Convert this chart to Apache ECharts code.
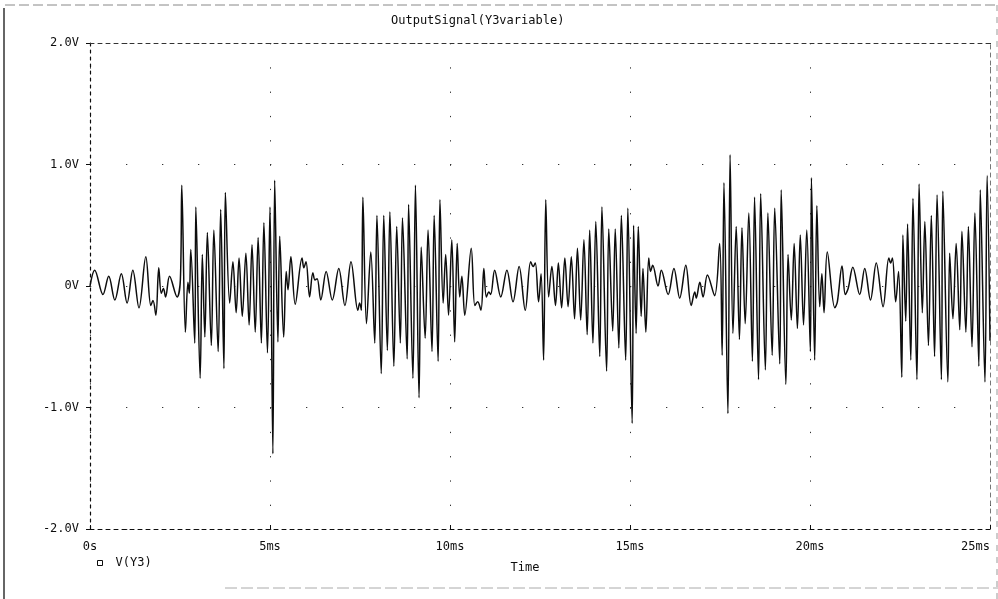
<!DOCTYPE html>
<html><head><meta charset="utf-8">
<script src="https://cdn.jsdelivr.net/npm/echarts@6/dist/echarts.min.js"></script>
<style>html,body{margin:0;padding:0;background:#fff;}#c{width:998px;height:599px;}</style>
</head><body><div id="c"></div>
<script>
// Tick labels
const xTickLabels = ['0s', '5ms', '10ms', '15ms', '20ms', '25ms'];
const yTickLabels = ['-2.0V', '-1.0V', '0V', '1.0V', '2.0V'];
const seriesName = 'V(Y3)';
const chartTitle = 'OutputSignal(Y3variable)';

// V(Y3): time (ms) and voltage (V), in five pieces
const tA = [0.00, 0.13, 0.36, 0.52, 0.69, 0.87, 1.03, 1.19, 1.36, 1.55, 1.69, 1.75, 1.83, 1.91, 1.98, 2.04, 2.10, 2.21, 2.42, 2.51, 2.55, 2.65, 2.72, 2.76, 2.80, 2.91, 2.94, 3.06, 3.12, 3.19, 3.26, 3.37, 3.44, 3.56, 3.63, 3.72, 3.76, 3.88, 3.97, 4.06, 4.14, 4.23, 4.33, 4.42, 4.50, 4.59, 4.67, 4.76, 4.83, 4.93];
const vA = [0.00, 0.13, -0.07, 0.08, -0.115, 0.10, -0.14, 0.13, -0.18, 0.24, -0.16, -0.12, -0.24, 0.15, -0.06, -0.02, -0.09, 0.08, -0.09, 0.05, 0.83, -0.38, 0.03, -0.06, 0.30, -0.47, 0.65, -0.76, 0.26, -0.42, 0.44, -0.49, 0.46, -0.54, 0.63, -0.68, 0.77, -0.14, 0.20, -0.22, 0.23, -0.25, 0.27, -0.32, 0.34, -0.38, 0.40, -0.47, 0.52, -0.55];

const tB = [5.00, 5.08, 5.13, 5.22, 5.27, 5.38, 5.45, 5.50, 5.58, 5.70, 5.89, 5.94, 6.00, 6.10, 6.19, 6.25, 6.31, 6.41, 6.56, 6.73, 6.91, 7.08, 7.25, 7.44, 7.49, 7.54, 7.58, 7.68, 7.80, 7.91, 7.97, 8.09, 8.16, 8.26, 8.33, 8.44, 8.52, 8.62, 8.68, 8.81, 8.85, 8.97, 9.04, 9.14, 9.20, 9.31, 9.39, 9.50, 9.56, 9.67, 9.72, 9.81, 9.88, 9.96];
const vB = [0.65, -1.38, 0.87, -0.46, 0.41, -0.42, 0.12, -0.03, 0.24, -0.15, 0.23, 0.15, 0.20, -0.09, 0.11, 0.05, 0.06, -0.115, 0.12, -0.115, 0.145, -0.16, 0.20, -0.20, -0.14, -0.20, 0.73, -0.31, 0.28, -0.47, 0.58, -0.72, 0.58, -0.53, 0.61, -0.66, 0.49, -0.47, 0.56, -0.60, 0.67, -0.76, 0.83, -0.92, 0.32, -0.43, 0.46, -0.54, 0.58, -0.62, 0.71, -0.14, 0.26, -0.24];

const tC = [10.05, 10.13, 10.20, 10.27, 10.33, 10.41, 10.59, 10.69, 10.77, 10.86, 10.94, 11.01, 11.08, 11.13, 11.24, 11.41, 11.58, 11.75, 11.92, 12.09, 12.24, 12.31, 12.37, 12.46, 12.53, 12.60, 12.66, 12.74, 12.83, 12.93, 13.01, 13.10, 13.19, 13.28, 13.37, 13.46, 13.54, 13.63, 13.72, 13.81, 13.88, 13.97, 14.05, 14.16, 14.22, 14.35, 14.41, 14.52, 14.59, 14.69, 14.76, 14.88, 14.94];
const vC = [0.38, -0.46, 0.35, -0.09, 0.08, -0.24, 0.31, -0.16, -0.13, -0.20, 0.145, -0.09, -0.05, -0.07, 0.13, -0.09, 0.13, -0.13, 0.16, -0.20, 0.20, 0.16, 0.19, -0.13, 0.10, -0.61, 0.71, -0.09, 0.16, -0.16, 0.19, -0.18, 0.23, -0.17, 0.24, -0.27, 0.31, -0.28, 0.38, -0.40, 0.46, -0.47, 0.53, -0.58, 0.65, -0.70, 0.47, -0.37, 0.47, -0.51, 0.58, -0.61, 0.64];

const tD = [15.06, 15.10, 15.17, 15.23, 15.31, 15.36, 15.44, 15.52, 15.57, 15.63, 15.78, 15.87, 16.06, 16.22, 16.38, 16.55, 16.70, 16.80, 16.84, 16.94, 17.03, 17.15, 17.35, 17.49, 17.56, 17.61, 17.72, 17.78, 17.86, 17.95, 18.04, 18.11, 18.20, 18.30, 18.40, 18.46, 18.57, 18.63, 18.76, 18.83, 18.95, 19.02, 19.16, 19.20, 19.33, 19.39, 19.48, 19.56, 19.65, 19.73, 19.82, 19.91];
const vD = [-1.13, 0.50, -0.39, 0.49, -0.25, 0.145, -0.38, 0.23, 0.12, 0.17, 0.00, 0.13, -0.07, 0.145, -0.10, 0.17, -0.16, -0.05, -0.10, 0.03, -0.09, 0.09, -0.08, 0.35, -0.57, 0.85, -1.05, 1.08, -0.39, 0.49, -0.44, 0.48, -0.31, 0.60, -0.62, 0.73, -0.77, 0.76, -0.69, 0.60, -0.57, 0.64, -0.64, 0.79, -0.81, 0.26, -0.28, 0.35, -0.35, 0.42, -0.32, 0.46];

const tE = [20.01, 20.04, 20.13, 20.19, 20.27, 20.33, 20.39, 20.48, 20.69, 20.76, 20.89, 20.98, 21.06, 21.19, 21.38, 21.52, 21.68, 21.84, 22.03, 22.19, 22.24, 22.29, 22.38, 22.46, 22.55, 22.58, 22.66, 22.71, 22.80, 22.86, 22.97, 23.03, 23.12, 23.19, 23.29, 23.37, 23.46, 23.53, 23.65, 23.69, 23.83, 23.88, 23.97, 24.06, 24.16, 24.22, 24.33, 24.40, 24.50, 24.58, 24.69, 24.73, 24.86, 24.92, 25.00];
const vE = [-0.54, 0.89, -0.61, 0.66, -0.17, 0.10, -0.22, 0.28, -0.18, -0.13, 0.165, -0.07, -0.02, 0.155, -0.07, 0.145, -0.115, 0.19, -0.17, 0.23, 0.19, 0.23, -0.13, 0.12, -0.75, 0.42, -0.29, 0.51, -0.61, 0.72, -0.77, 0.84, -0.22, 0.53, -0.49, 0.58, -0.58, 0.75, -0.77, 0.78, -0.79, 0.27, -0.27, 0.35, -0.36, 0.45, -0.38, 0.49, -0.50, 0.60, -0.66, 0.79, -0.79, 0.91, -0.45];

const times = [].concat(tA, tB, tC, tD, tE);
const volts = [].concat(vA, vB, vC, vD, vE);
const points = times.map((t, i) => [t, volts[i]]);

const FONT = '"DejaVu Sans Mono", "Liberation Mono", monospace';
const INK = '#0d0d0d';

const chart = echarts.init(document.getElementById('c'), null, { renderer: 'canvas' });
chart.setOption({
  animation: false,
  backgroundColor: '#ffffff',
  title: {
    text: chartTitle, left: 386, top: 10,
    textStyle: { fontFamily: FONT, fontSize: 12, fontWeight: 'normal', color: INK }
  },
  legend: {
    data: [seriesName], left: 92, top: 552, icon: 'rect', itemWidth: 5, itemHeight: 5,
    itemStyle: { color: '#fff', borderColor: INK, borderWidth: 1 },
    textStyle: { fontFamily: FONT, fontSize: 12, color: INK, padding: [0, 0, 0, 8] }
  },
  grid: { left: 90, right: 8, top: 43, bottom: 70, containLabel: false },
  xAxis: [{
    type: 'value', min: 0, max: 25, interval: 5, position: 'bottom',
    axisLine: { show: true, onZero: false, lineStyle: { color: INK, width: 1, type: [4, 4] } },
    axisTick: { show: true, inside: true, length: 4, lineStyle: { color: INK } },
    axisLabel: {
      formatter: v => xTickLabels[Math.round(v / 5)], margin: 12,
      fontFamily: FONT, fontSize: 12, color: INK, alignMaxLabel: 'right'
    },
    splitLine: { show: true, lineStyle: { color: '#333', width: 1, type: [1.3, 23] } },
    name: 'Time', nameLocation: 'middle', nameGap: 33,
    nameTextStyle: { fontFamily: FONT, fontSize: 12, color: INK, padding: [0, 30, 0, 0] }
  }, {
    type: 'value', min: 0, max: 25, interval: 5, position: 'top',
    axisLine: { show: true, onZero: false, lineStyle: { color: '#333', width: 1, type: [4, 4] } },
    axisTick: { show: false }, axisLabel: { show: false }, splitLine: { show: false }
  }],
  yAxis: [{
    type: 'value', min: -2, max: 2, interval: 1, position: 'left',
    axisLine: { show: true, onZero: false, lineStyle: { color: INK, width: 1.2, type: [3, 4] } },
    axisTick: { show: true, length: 4, lineStyle: { color: INK } },
    axisLabel: {
      formatter: v => yTickLabels[Math.round(v + 2)], margin: 11,
      fontFamily: FONT, fontSize: 12, color: INK
    },
    splitLine: { show: true, lineStyle: { color: '#333', width: 1, type: [1.3, 34.7] } }
  }, {
    type: 'value', min: -2, max: 2, interval: 1, position: 'right',
    axisLine: { show: true, onZero: false, lineStyle: { color: '#777', width: 1, type: [4, 4] } },
    axisTick: { show: false }, axisLabel: { show: false }, splitLine: { show: false }
  }],
  series: [{
    name: seriesName, type: 'line', data: points,
    xAxisIndex: 0, yAxisIndex: 0,
    showSymbol: false, symbol: 'none', smooth: 0.35,
    lineStyle: { color: INK, width: 1.5 }, itemStyle: { color: INK }
  }],
  graphic: [
    { type: 'line', shape: { x1: 4, y1: 8, x2: 4, y2: 599 }, style: { stroke: '#333', lineWidth: 1.5 }, silent: true },
    { type: 'line', shape: { x1: 5, y1: 5, x2: 997, y2: 5 }, style: { stroke: '#888', lineWidth: 1, lineDash: [10, 4] }, silent: true },
    { type: 'line', shape: { x1: 997, y1: 5, x2: 997, y2: 599 }, style: { stroke: '#999', lineWidth: 1, lineDash: [6, 6] }, silent: true },
    { type: 'line', shape: { x1: 225, y1: 588, x2: 998, y2: 588 }, style: { stroke: '#aaa', lineWidth: 1, lineDash: [12, 4] }, silent: true }
  ]
});
</script>
</body></html>
